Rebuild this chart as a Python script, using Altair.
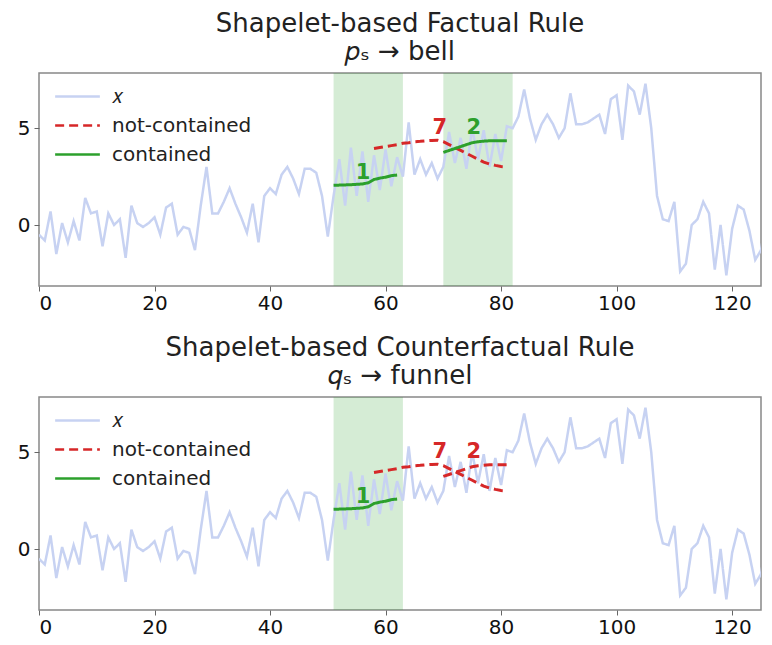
import altair as alt
import pandas as pd

# ---- data ----
t_vals = list(range(128))
x_vals = [-0.5, -0.8, 0.7, -1.5, 0.1, -0.9, 0.2, -0.8, 1.4, 0.6,
          0.7, -1.1, 0.6, 0.0, 0.3, -1.7, 1.0, 0.1, -0.1, 0.1,
          0.4, -0.5, 0.9, 1.1, -0.5, -0.1, -0.2, -1.3, 1.0, 3.0,
          0.6, 0.6, 1.2, 1.9, 1.1, 0.4, -0.4, 1.1, -0.9, 1.5,
          1.9, 1.6, 2.6, 3.0, 2.4, 1.6, 2.9, 2.9, 2.7, 1.5,
          -0.6, 1.5, 3.4, 1.0, 4.0, 1.5, 3.8, 1.2, 3.6, 1.8,
          3.9, 2.0, 3.5, 2.5, 5.3, 2.6, 3.4, 2.6, 3.2, 2.4,
          3.0, 4.8, 3.2, 4.5, 2.9, 5.0, 3.4, 4.9, 3.0, 4.7,
          3.3, 5.1, 5.0, 5.6, 7.0, 5.5, 4.4, 5.2, 5.7, 5.2,
          4.5, 5.0, 6.8, 5.2, 5.2, 5.3, 5.5, 5.7, 4.7, 6.5,
          6.7, 4.4, 7.2, 6.9, 5.7, 7.3, 5.0, 1.5, 0.3, 0.2,
          1.2, -2.4, -2.0, 0.0, 0.3, 1.2, 0.6, -2.3, 0.0, -2.6,
          -0.2, 1.0, 0.8, -0.3, -1.8, -1.3, 0.5, 1.7]

shp1_t = list(range(51, 63))
shp1_v = [2.05, 2.06, 2.07, 2.08, 2.10, 2.12, 2.18, 2.35, 2.42, 2.47, 2.55, 2.58]
shp7_t = list(range(58, 82))
shp7_v = [3.95, 4.00, 4.05, 4.10, 4.15, 4.22, 4.25, 4.30, 4.32, 4.35, 4.37, 4.38,
          4.30, 4.15, 4.00, 3.85, 3.70, 3.55, 3.40, 3.25, 3.15, 3.08, 3.02, 3.00]
shp2_t = list(range(70, 82))
shp2_v = [3.75, 3.85, 3.95, 4.05, 4.15, 4.25, 4.30, 4.33, 4.35, 4.35, 4.35, 4.35]

label_ids = ["1", "7", "2"]
label_t = [56.1, 69.4, 75.3]
label_v = [2.7, 5.0, 5.0]

panel_titles = ["Shapelet-based Factual Rule", "Shapelet-based Counterfactual Rule"]
panel_subtitles = ["\U0001D45D\u209B \u2192 bell", "\U0001D45E\u209B \u2192 funnel"]
panel_contained = [["1", "2"], ["1"]]
panel_regions_start = [[51, 70], [51]]
panel_regions_end = [[63, 82], [63]]

legend_domain = ["\U0001D465", "not-contained", "contained"]
legend_colors = ["#c7d2f2", "#d62728", "#2ca02c"]
legend_dash = [[1, 0], [9, 5], [1, 0]]

W, H = 722, 213
XDOM = [0, 125]
YDOM = [-3.15, 7.85]

shp_t = {"1": shp1_t, "7": shp7_t, "2": shp2_t}
shp_v = {"1": shp1_v, "7": shp7_v, "2": shp2_v}

color_scale = alt.Scale(domain=legend_domain, range=legend_colors)
dash_scale = alt.Scale(domain=legend_domain, range=legend_dash)
xscale = alt.Scale(domain=XDOM, nice=False, zero=False)
yscale = alt.Scale(domain=YDOM, nice=False, zero=False)

xaxis = alt.Axis(values=[0, 20, 40, 60, 80, 100, 120], grid=False,
                 domain=False, tickColor="#666", tickSize=5,
                 labelFontSize=20, labelColor="#111", labelPadding=2,
                 labelFont="DejaVu Sans")
yaxis = alt.Axis(values=[0, 5], grid=False, domain=False,
                 tickColor="#666", tickSize=5, labelFontSize=20,
                 labelColor="#111", labelPadding=4, labelFont="DejaVu Sans")


def panel(i):
    contained = panel_contained[i]
    series_df = pd.DataFrame({"t": t_vals, "v": x_vals, "kind": legend_domain[0], "seg": "x"})
    rows = []
    for sid in ["1", "7", "2"]:
        kind = "contained" if sid in contained else "not-contained"
        for tt, vv in zip(shp_t[sid], shp_v[sid]):
            rows.append({"t": tt, "v": vv, "kind": kind, "seg": sid})
    shp_df = pd.DataFrame(rows)
    lab_df = pd.DataFrame({
        "t": label_t, "v": label_v, "id": label_ids,
        "kind": ["contained" if s in contained else "not-contained" for s in label_ids],
    })
    reg_df = pd.DataFrame({"s": panel_regions_start[i], "e": panel_regions_end[i]})

    regions = alt.Chart(reg_df).mark_rect(color="#2ca02c", opacity=0.2).encode(
        x=alt.X("s:Q", scale=xscale, axis=xaxis, title=None), x2="e:Q",
        y=alt.value(0), y2=alt.value(H))

    legend = alt.Legend(title=None, orient="none", legendX=24, legendY=9,
                        symbolType="M-2,0L2,0", symbolSize=500, symbolStrokeWidth=2.5,
                        labelFontSize=20, labelFont="DejaVu Sans", labelColor="#222",
                        rowPadding=6, labelOffset=22, padding=2)

    series = alt.Chart(series_df).mark_line(strokeWidth=2.5, clip=True).encode(
        x=alt.X("t:Q", scale=xscale, axis=xaxis, title=None),
        y=alt.Y("v:Q", scale=yscale, axis=yaxis, title=None),
        color=alt.Color("kind:N", scale=color_scale, legend=legend),
        strokeDash=alt.StrokeDash("kind:N", scale=dash_scale, legend=legend),
        detail="seg:N")

    shapes = alt.Chart(shp_df).mark_line(strokeWidth=3).encode(
        x=alt.X("t:Q", scale=xscale), y=alt.Y("v:Q", scale=yscale),
        color=alt.Color("kind:N", scale=color_scale, legend=legend),
        strokeDash=alt.StrokeDash("kind:N", scale=dash_scale, legend=legend),
        detail="seg:N")

    labels = alt.Chart(lab_df).mark_text(fontSize=21, fontWeight="bold",
                                         font="DejaVu Sans").encode(
        x=alt.X("t:Q", scale=xscale), y=alt.Y("v:Q", scale=yscale),
        text="id:N",
        color=alt.Color("kind:N", scale=color_scale, legend=None))

    return alt.layer(regions, series, shapes, labels).properties(
        width=W, height=H,
        title=alt.TitleParams(text=panel_titles[i], subtitle=panel_subtitles[i],
                              fontSize=26, subtitleFontSize=26, font="DejaVu Sans",
                              subtitleFont="DejaVu Sans", color="#222",
                              subtitleColor="#222", fontWeight="normal",
                              anchor="middle", offset=8, subtitlePadding=2))


chart = alt.vconcat(panel(0), panel(1), spacing=20).resolve_scale(
    color="independent", strokeDash="independent").resolve_legend(
    color="independent", strokeDash="independent").properties(
    padding={"left": 16, "top": 10, "right": 0, "bottom": 0}
).configure_view(stroke="#888", strokeWidth=1.5)

chart.save("out.html", embed_options={"renderer": "svg", "actions": False})
